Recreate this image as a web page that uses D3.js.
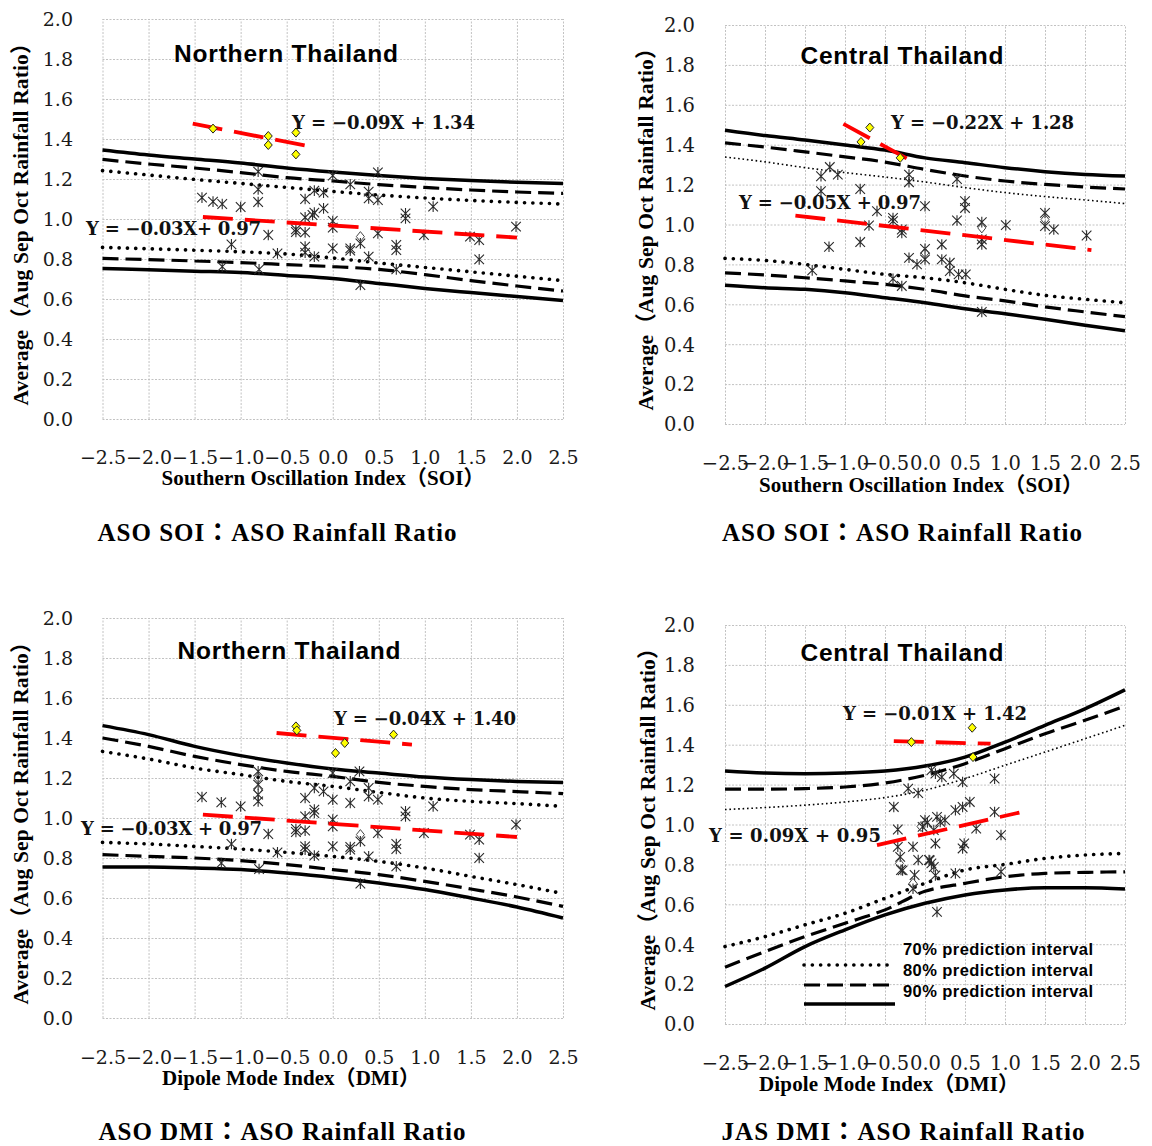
<!DOCTYPE html>
<html>
<head>
<meta charset="utf-8">
<script src="https://cdn.jsdelivr.net/npm/d3@7"></script>
<style>
body { margin: 0; background: #fff; }
svg { display: block; }
</style>
</head>
<body>
<svg id="pic" width="1152" height="1146"></svg>
<script>
// ---- data ----
var xTicks = [-2.5, -2.0, -1.5, -1.0, -0.5, 0.0, 0.5, 1.0, 1.5, 2.0, 2.5];
var yTicks = [0.0, 0.2, 0.4, 0.6, 0.8, 1.0, 1.2, 1.4, 1.6, 1.8, 2.0];
var bandX = [-2.5, -2.0, -1.5, -1.0, -0.5, 0.0, 0.5, 1.0, 1.5, 2.0, 2.5];

var panelTitles = ["Northern Thailand", "Central Thailand", "Northern Thailand", "Central Thailand"];
var xTitles = ["Southern Oscillation Index（SOI）", "Southern Oscillation Index（SOI）",
               "Dipole Mode Index（DMI）", "Dipole Mode Index（DMI）"];
var yTitle = "Average（Aug Sep Oct Rainfall Ratio）";
var captions = ["ASO SOI：ASO Rainfall Ratio", "ASO SOI：ASO Rainfall Ratio",
                "ASO DMI：ASO Rainfall Ratio", "JAS DMI：ASO Rainfall Ratio"];
var eqHigh = ["Y = −0.09X + 1.34", "Y = −0.22X + 1.28", "Y = −0.04X + 1.40", "Y = −0.01X + 1.42"];
var eqLow = ["Y = −0.03X+ 0.97", "Y = −0.05X + 0.97", "Y = −0.03X + 0.97", "Y = 0.09X + 0.95"];
var legendLabels = ["70% prediction interval", "80% prediction interval", "90% prediction interval"];

// bands: upper 90, upper 80, upper 70, lower 70, lower 80, lower 90 (at bandX)
var soiNorthBands = [
  [1.345, 1.320, 1.300, 1.280, 1.255, 1.235, 1.218, 1.203, 1.192, 1.184, 1.178],
  [1.298, 1.275, 1.255, 1.232, 1.207, 1.190, 1.172, 1.158, 1.145, 1.135, 1.128],
  [1.242, 1.220, 1.198, 1.178, 1.158, 1.138, 1.120, 1.105, 1.093, 1.083, 1.075],
  [0.858, 0.851, 0.844, 0.836, 0.825, 0.805, 0.780, 0.758, 0.736, 0.714, 0.692],
  [0.803, 0.797, 0.790, 0.782, 0.772, 0.762, 0.748, 0.722, 0.692, 0.665, 0.640],
  [0.753, 0.746, 0.739, 0.732, 0.718, 0.703, 0.678, 0.653, 0.632, 0.612, 0.592]
];
var soiCentralBands = [
  [1.473, 1.446, 1.423, 1.398, 1.373, 1.334, 1.310, 1.285, 1.265, 1.251, 1.243],
  [1.409, 1.388, 1.364, 1.339, 1.313, 1.276, 1.243, 1.218, 1.201, 1.188, 1.178],
  [1.338, 1.314, 1.285, 1.260, 1.238, 1.213, 1.185, 1.160, 1.140, 1.123, 1.105],
  [0.830, 0.820, 0.800, 0.775, 0.750, 0.733, 0.708, 0.675, 0.645, 0.625, 0.608],
  [0.758, 0.747, 0.733, 0.717, 0.700, 0.675, 0.642, 0.617, 0.587, 0.562, 0.538],
  [0.695, 0.683, 0.675, 0.658, 0.633, 0.608, 0.578, 0.553, 0.525, 0.495, 0.467]
];
var dmiNorthBands = [
  [1.462, 1.417, 1.358, 1.312, 1.275, 1.245, 1.225, 1.205, 1.192, 1.183, 1.178],
  [1.400, 1.358, 1.308, 1.267, 1.233, 1.208, 1.178, 1.158, 1.142, 1.132, 1.122],
  [1.333, 1.295, 1.250, 1.217, 1.183, 1.158, 1.128, 1.100, 1.083, 1.072, 1.058],
  [0.878, 0.870, 0.858, 0.845, 0.828, 0.808, 0.783, 0.750, 0.708, 0.667, 0.622],
  [0.817, 0.808, 0.800, 0.787, 0.767, 0.742, 0.717, 0.683, 0.645, 0.605, 0.558],
  [0.755, 0.755, 0.750, 0.742, 0.725, 0.703, 0.675, 0.642, 0.600, 0.555, 0.500]
];
var dmiCentralBands = [
  [1.268, 1.258, 1.255, 1.258, 1.268, 1.293, 1.338, 1.413, 1.497, 1.580, 1.675],
  [1.177, 1.177, 1.180, 1.188, 1.208, 1.247, 1.305, 1.380, 1.455, 1.522, 1.593],
  [1.075, 1.085, 1.097, 1.113, 1.135, 1.172, 1.230, 1.297, 1.363, 1.430, 1.497],
  [0.388, 0.438, 0.497, 0.555, 0.630, 0.705, 0.772, 0.800, 0.830, 0.847, 0.855],
  [0.285, 0.363, 0.438, 0.505, 0.572, 0.665, 0.705, 0.738, 0.755, 0.760, 0.763],
  [0.188, 0.280, 0.388, 0.472, 0.547, 0.605, 0.647, 0.672, 0.683, 0.683, 0.677]
];

// asterisk points [index, ratio]
var soiNorthStars = [
  [-1.42, 1.107], [-1.30, 1.087], [-1.20, 1.075], [-1.00, 1.060], [-0.81, 1.148], [-0.81, 1.085],
  [-0.81, 1.237], [-1.10, 0.873], [-0.70, 0.920], [-0.60, 0.828], [-1.20, 0.762], [-0.80, 0.748],
  [-0.30, 1.100], [-0.20, 1.142], [-0.10, 1.132], [-0.30, 1.008], [-0.20, 1.032], [-0.10, 1.053],
  [-0.40, 0.948], [-0.30, 0.933], [-0.30, 0.862], [-0.30, 0.832], [-0.20, 0.812], [0.00, 0.990],
  [0.00, 0.957], [0.00, 0.853], [0.00, 1.217], [0.19, 1.173], [0.39, 1.137], [0.39, 1.103],
  [0.49, 1.095], [0.49, 1.233], [0.19, 0.853], [0.19, 0.842], [0.30, 0.878], [0.30, 0.670],
  [0.39, 0.812], [0.49, 0.928], [0.69, 0.870], [0.69, 0.845], [0.69, 0.748], [0.79, 1.028],
  [0.79, 1.003], [1.09, 1.062], [0.99, 0.920], [1.49, 0.912], [1.59, 0.895], [1.59, 0.798],
  [1.99, 0.962], [-0.40, 0.935], [-0.22, 1.020]
];
var soiNorthHollow = [[0.30, 0.912]];
var soiNorthYellow = [[-1.30, 1.452], [-0.70, 1.415], [-0.70, 1.370], [-0.40, 1.432], [-0.40, 1.323]];
var soiNorthFits = [[[-1.52, 1.477], [-0.23, 1.361]], [[-1.41, 1.010], [2.00, 0.907]]];

var soiCentralStars = [
  [-1.30, 1.242], [-1.19, 1.288], [-1.09, 1.250], [-1.30, 1.167], [-0.81, 1.178], [-1.20, 0.888],
  [-0.81, 0.912], [-0.60, 1.067], [-0.70, 0.995], [-0.40, 1.033], [-0.40, 1.017], [-0.29, 0.975],
  [-0.29, 0.958], [-0.20, 1.250], [-0.20, 1.212], [0.00, 1.092], [-0.20, 0.833], [-0.10, 0.800],
  [0.00, 0.878], [0.00, 0.825], [0.21, 0.900], [0.21, 0.825], [0.31, 0.808], [0.31, 0.767],
  [0.42, 0.750], [0.51, 0.750], [0.40, 1.020], [0.50, 1.117], [0.50, 1.083], [0.40, 1.228],
  [0.71, 1.012], [0.71, 0.900], [0.71, 0.925], [1.01, 0.997], [1.50, 1.058], [1.61, 0.975],
  [1.50, 0.992], [2.02, 0.945], [-1.41, 0.770], [-0.40, 0.728], [-0.29, 0.692], [0.71, 0.562]
];
var soiCentralHollow = [[0.00, 0.858], [0.71, 0.983], [1.50, 1.025]];
var soiCentralYellow = [[-0.69, 1.486], [-0.80, 1.414], [-0.31, 1.334]];
var soiCentralFits = [[[-1.02, 1.504], [-0.18, 1.321]], [[-1.62, 1.045], [2.08, 0.872]]];

var dmiNorthStars = [
  [-1.42, 1.105], [-1.21, 1.078], [-1.00, 1.058], [-0.81, 1.233], [-0.81, 1.167], [-0.81, 1.117],
  [-0.81, 1.083], [-1.10, 0.870], [-0.70, 0.920], [-0.60, 0.828], [-1.21, 0.775], [-0.80, 0.745],
  [-0.30, 1.100], [-0.20, 1.150], [-0.10, 1.133], [-0.30, 1.008], [-0.20, 1.042], [-0.20, 1.025],
  [-0.40, 0.945], [-0.30, 0.937], [-0.30, 0.858], [-0.30, 0.842], [-0.20, 0.812], [0.00, 1.092],
  [0.00, 0.992], [0.00, 0.958], [0.00, 0.858], [0.00, 1.225], [0.19, 1.183], [0.19, 1.075],
  [0.29, 1.233], [0.39, 1.150], [0.39, 1.108], [0.49, 1.092], [0.19, 0.855], [0.19, 0.842],
  [0.30, 0.883], [0.30, 0.672], [0.39, 0.808], [0.49, 0.925], [0.69, 0.870], [0.69, 0.845],
  [0.69, 0.758], [0.79, 1.033], [0.79, 1.008], [1.09, 1.058], [0.99, 0.925], [1.49, 0.917],
  [1.59, 0.892], [1.59, 0.800], [1.99, 0.967], [-0.40, 0.930]
];
var dmiNorthHollow = [[0.30, 0.917], [-0.81, 1.140], [-0.81, 1.200]];
var dmiNorthYellow = [[-0.40, 1.458], [-0.39, 1.438], [0.03, 1.325], [0.13, 1.375], [0.66, 1.417]];
var dmiNorthFits = [[[-0.61, 1.425], [0.86, 1.367]], [[-1.41, 1.017], [2.00, 0.905]]];

var dmiCentralStars = [
  [-0.39, 1.088], [-0.34, 0.975], [-0.34, 0.888], [-0.31, 0.838], [-0.30, 0.772], [-0.21, 1.180],
  [-0.085, 1.158], [-0.15, 0.888], [-0.13, 0.747], [-0.15, 0.678], [-0.085, 0.822], [-0.03, 0.988],
  [0.00, 1.022], [0.05, 0.822], [0.08, 0.805], [0.13, 0.905], [0.11, 0.972], [0.08, 1.272],
  [0.13, 1.255], [0.21, 1.238], [0.25, 1.022], [0.15, 1.038], [0.19, 1.013], [0.36, 1.255],
  [0.47, 1.213], [0.38, 1.072], [0.47, 1.088], [0.56, 1.113], [0.49, 0.905], [0.47, 0.880],
  [0.64, 0.980], [0.87, 1.063], [0.87, 1.230], [0.95, 0.947], [0.38, 0.755], [0.95, 0.763],
  [-0.28, 0.770], [0.06, 0.820], [0.11, 0.787], [0.13, 0.745], [0.15, 0.562], [0.03, 1.010]
];
var dmiCentralHollow = [[-0.32, 0.805], [-0.15, 0.705], [-0.05, 0.990]];
var dmiCentralYellow = [[-0.17, 1.413], [0.59, 1.485], [0.60, 1.338]];
var dmiCentralFits = [[[-0.39, 1.418], [0.82, 1.405]], [[-0.60, 0.897], [1.18, 1.060]]];

// ---- layout ----
var SERIF = "'Liberation Serif', 'Noto Sans CJK JP', serif";
var TICKFONT = "'DejaVu Serif', serif";
var SANS = "'Liberation Sans', Arial, sans-serif";

var panels = [
  { left: 102.5, right: 563, top: 19, bottom: 419, tickFs: 19, tickPadY: 29.5, tickDx: 38, thinUpper: false,
    bands: soiNorthBands, stars: soiNorthStars, hollow: soiNorthHollow, yellow: soiNorthYellow, fits: soiNorthFits,
    title: [286, 53, 224], eqA: [292, 123, 183], eqB: [86, 229, 175], xt: [323, 478, 323], yt: [20, 219],
    cap: [277, 533, 359] },
  { left: 725, right: 1125, top: 25, bottom: 424, tickFs: 19.5, tickPadY: 30, tickDx: 39, thinUpper: true,
    bands: soiCentralBands, stars: soiCentralStars, hollow: soiCentralHollow, yellow: soiCentralYellow, fits: soiCentralFits,
    title: [902, 55, 203], eqA: [891, 123, 183], eqB: [739, 203, 182], xt: [921, 485, 324], yt: [645, 224],
    cap: [902, 533, 360] },
  { left: 102.5, right: 563, top: 618, bottom: 1018, tickFs: 19, tickPadY: 29.5, tickDx: 39, thinUpper: false,
    bands: dmiNorthBands, stars: dmiNorthStars, hollow: dmiNorthHollow, yellow: dmiNorthYellow, fits: dmiNorthFits,
    title: [289, 650, 223], eqA: [334, 719, 182], eqB: [81, 829, 181], xt: [291, 1078, 258], yt: [20, 818],
    cap: [282, 1132, 367] },
  { left: 725, right: 1125, top: 625, bottom: 1024, tickFs: 19.5, tickPadY: 30, tickDx: 39, thinUpper: true, legend: true,
    bands: dmiCentralBands, stars: dmiCentralStars, hollow: dmiCentralHollow, yellow: dmiCentralYellow, fits: dmiCentralFits,
    title: [902, 652, 203], eqA: [843, 714, 184], eqB: [709, 836, 172], xt: [889, 1084, 260], yt: [647, 824],
    cap: [903, 1132, 363] }
];

var svg = d3.select("#pic");

function bandStyle(sel, i, thinUpper) {
  sel.attr("fill", "none").attr("stroke", "#000");
  if (i === 0 || i === 5) {
    sel.attr("stroke-width", 3.5);
  } else if (i === 1 || i === 4) {
    sel.attr("stroke-width", 3.2).attr("stroke-dasharray", "16,7");
  } else if (i === 2 && thinUpper) {
    sel.attr("stroke-width", 1.6).attr("stroke-dasharray", "1.6,2.8");
  } else {
    sel.attr("stroke-width", 3.6).attr("stroke-linecap", "round").attr("stroke-dasharray", "0.1,8.2");
  }
}

function starPath(r) {
  var v = r * 1.1;
  return "M" + (-r) + "," + (-r) + "L" + r + "," + r +
         "M" + (-r) + "," + r + "L" + r + "," + (-r) +
         "M0," + (-v) + "L0," + v;
}
function diamondPath(w, h) {
  return "M0," + (-h) + "L" + w + ",0L0," + h + "L" + (-w) + ",0Z";
}

function drawPanel(p, k) {
  var g = svg.append("g");
  var x = d3.scaleLinear().domain([-2.5, 2.5]).range([p.left, p.right]);
  var y = d3.scaleLinear().domain([0, 2]).range([p.bottom, p.top]);

  // grid
  var gx = g.append("g").attr("transform", "translate(0," + p.bottom + ")")
    .call(d3.axisBottom(x).tickValues(xTicks).tickSize(-(p.bottom - p.top)).tickFormat(""));
  var gy = g.append("g").attr("transform", "translate(" + p.left + ",0)")
    .call(d3.axisLeft(y).tickValues(yTicks).tickSize(-(p.right - p.left)).tickFormat(""));
  [gx, gy].forEach(function (a) {
    a.select(".domain").remove();
    a.selectAll("line").attr("stroke", "#c2c2c2").attr("stroke-dasharray", "2,1.5").attr("stroke-width", 1);
  });

  // tick labels
  var ax = g.append("g").attr("transform", "translate(0," + p.bottom + ")")
    .call(d3.axisBottom(x).tickValues(xTicks).tickFormat(d3.format(".1f")).tickSize(0));
  var ay = g.append("g").attr("transform", "translate(" + p.left + ",0)")
    .call(d3.axisLeft(y).tickValues(yTicks).tickFormat(d3.format(".1f")).tickSize(0));
  [ax, ay].forEach(function (a) {
    a.select(".domain").remove();
    a.attr("font-family", TICKFONT).attr("font-size", p.tickFs);
    a.selectAll("text").attr("fill", "#1a1a1a");
  });
  ax.selectAll("text").attr("y", p.tickDx).attr("dy", "0.35em");
  ay.selectAll("text").attr("x", -p.tickPadY).attr("dy", "0.35em");

  // prediction bands
  var line = d3.line().x(function (d, i) { return x(bandX[i]); }).y(function (d) { return y(d); })
    .curve(d3.curveMonotoneX);
  p.bands.forEach(function (b, i) {
    g.append("path").attr("d", line(b)).call(bandStyle, i, p.thinUpper);
  });

  // asterisks and hollow diamonds
  g.append("g").selectAll("path").data(p.stars).join("path")
    .attr("transform", function (d) { return "translate(" + x(d[0]) + "," + y(d[1]) + ")"; })
    .attr("d", starPath(4.8)).attr("fill", "none").attr("stroke", "#2a2a2a").attr("stroke-width", 1.1);
  g.append("g").selectAll("path").data(p.hollow).join("path")
    .attr("transform", function (d) { return "translate(" + x(d[0]) + "," + y(d[1]) + ")"; })
    .attr("d", diamondPath(4, 5)).attr("fill", "none").attr("stroke", "#444").attr("stroke-width", 1);

  // regression lines
  var fitLine = d3.line().x(function (d) { return x(d[0]); }).y(function (d) { return y(d[1]); });
  p.fits.forEach(function (f) {
    g.append("path").attr("d", fitLine(f)).attr("fill", "none").attr("stroke", "#ff0000")
      .attr("stroke-width", 3.8).attr("stroke-dasharray", "30,12");
  });

  // yellow diamonds
  g.append("g").selectAll("path").data(p.yellow).join("path")
    .attr("transform", function (d) { return "translate(" + x(d[0]) + "," + y(d[1]) + ")"; })
    .attr("d", diamondPath(4, 4.5)).attr("fill", "#ffff00").attr("stroke", "#222").attr("stroke-width", 1);

  // texts
  g.append("text").attr("x", p.title[0]).attr("y", p.title[1]).attr("dy", "0.35em")
    .attr("text-anchor", "middle").attr("font-family", SANS).attr("font-weight", "bold")
    .attr("font-size", 24.5).attr("textLength", p.title[2]).text(panelTitles[k]);
  [[p.eqA, eqHigh[k]], [p.eqB, eqLow[k]]].forEach(function (e) {
    g.append("text").attr("x", e[0][0]).attr("y", e[0][1]).attr("dy", "0.35em")
      .attr("font-family", TICKFONT).attr("font-weight", "bold").attr("font-size", 18)
      .attr("textLength", e[0][2]).attr("fill", "#111").text(e[1]);
  });
  g.append("text").attr("x", p.xt[0]).attr("y", p.xt[1]).attr("dy", "0.35em")
    .attr("text-anchor", "middle").attr("font-family", SERIF).attr("font-weight", "bold")
    .attr("font-size", 21).attr("textLength", p.xt[2]).text(xTitles[k]);
  g.append("text").attr("transform", "translate(" + p.yt[0] + "," + p.yt[1] + ") rotate(-90)")
    .attr("dy", "0.35em").attr("text-anchor", "middle").attr("font-family", SERIF)
    .attr("font-weight", "bold").attr("font-size", 21.5).attr("textLength", 373).text(yTitle);
  g.append("text").attr("x", p.cap[0]).attr("y", p.cap[1]).attr("dy", "0.33em")
    .attr("text-anchor", "middle").attr("font-family", SERIF).attr("font-weight", "bold")
    .attr("font-size", 25).attr("textLength", p.cap[2]).text(captions[k]);

  if (p.legend) {
    var lg = g.append("g");
    legendLabels.forEach(function (t, i) {
      lg.append("text").attr("x", 903).attr("y", 949 + i * 21).attr("dy", "0.35em")
        .attr("font-family", SANS).attr("font-weight", "bold").attr("font-size", 16.5)
        .attr("textLength", 190).text(t);
    });
    // legend samples: dotted, dashed, solid (band indices 3, 4, 5)
    [[3, 965, 888], [4, 985, 895], [5, 1004, 895]].forEach(function (s) {
      lg.append("line").attr("x1", 804).attr("x2", s[2]).attr("y1", s[1]).attr("y2", s[1])
        .call(bandStyle, s[0], false);
    });
  }
}

panels.forEach(drawPanel);
</script>
</body>
</html>
